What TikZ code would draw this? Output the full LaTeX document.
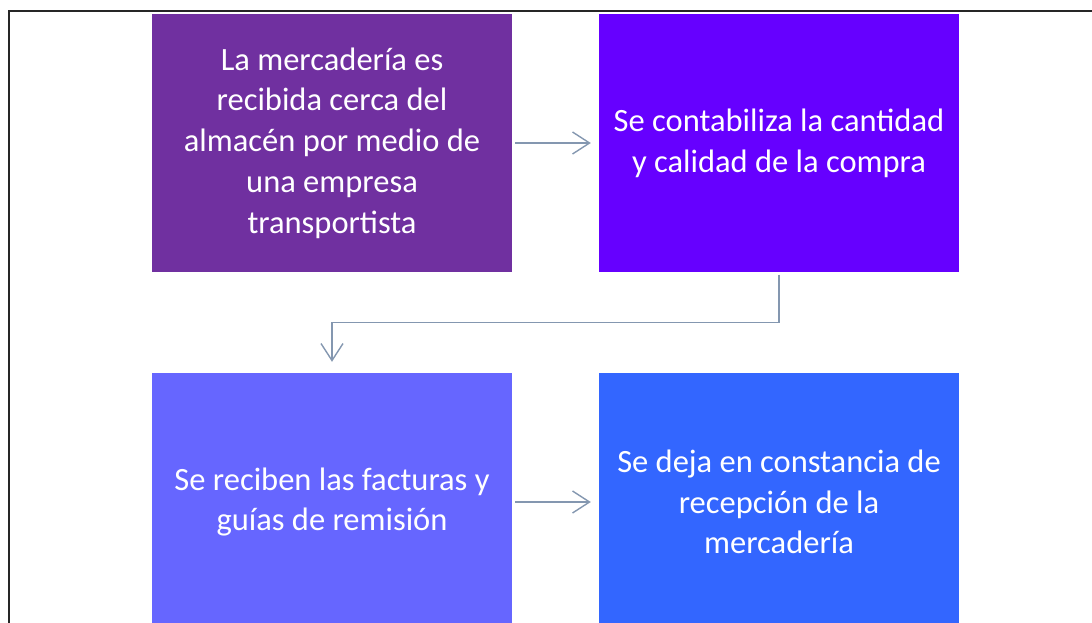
\documentclass[tikz,border=0pt]{standalone}
\usepackage{fontspec}
\setmainfont{Carlito}
\usetikzlibrary{arrows.meta}
\definecolor{morado}{HTML}{7030A0}
\definecolor{violeta}{HTML}{6600FF}
\definecolor{lila}{HTML}{6666FF}
\definecolor{azul}{HTML}{3366FF}
\definecolor{gris}{HTML}{8497B0}
\begin{document}
\begin{tikzpicture}
[x=1pt, y=-1pt,
paso/.style={minimum width=360pt, minimum height=257pt, inner sep=0pt, align=center, text=white, font=\fontsize{32.5}{40.8}\selectfont},
flecha/.style={gris, line width=1.4pt, -{Straight Barb[length=17pt, width=22pt, line width=1.4pt]}}]
\useasboundingbox (0,0) rectangle (1092,623);
\draw[line width=2pt, black!85] (9,623) -- (9,11) -- (1092,11);
\node[paso, fill=morado] (recibe) at (332,143) {La mercadería es\\recibida cerca del\\almacén por medio de\\una empresa\\transportista};
\node[paso, fill=violeta] (conta) at (779,143) {Se contabiliza la cantidad\\y calidad de la compra};
\node[paso, fill=lila, minimum height=258pt] (facturas) at (332,502) {Se reciben las facturas y\\guías de remisión};
\node[paso, fill=azul, minimum height=258pt] (consta) at (779,502) {Se deja en constancia de\\recepción de la\\mercadería};
\draw[flecha, shorten <=3pt, shorten >=8pt] (recibe) -- (conta);
\draw[flecha, shorten <=3pt, shorten >=11pt] (conta.south) -- ++(0,51) -| (facturas.north);
\draw[flecha, shorten <=3pt, shorten >=8pt] (facturas) -- (consta);
\end{tikzpicture}
\end{document}
